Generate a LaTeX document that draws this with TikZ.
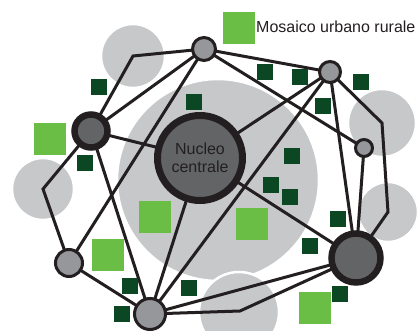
\documentclass[tikz,border=0pt]{standalone}
\usepackage{fontspec}
\setmainfont{Liberation Sans}
\definecolor{zonegray}{HTML}{C7C8CA}
\definecolor{nodegray}{HTML}{96979B}
\definecolor{coregray}{HTML}{636466}
\definecolor{ink}{HTML}{231F20}
\definecolor{dkgreen}{HTML}{0B4722}
\definecolor{ltgreen}{HTML}{6ABD45}
\pgfdeclarelayer{back}
\pgfdeclarelayer{edges}
\pgfsetlayers{back,edges,main}
\begin{document}
\begin{tikzpicture}[x=1pt,y=-1pt,
  zone/.style={fill=zonegray,draw=white,line width=2.5pt},
  smallnode/.style={circle,fill=nodegray,draw=ink,line width=3pt,inner sep=0pt},
  bignode/.style={circle,fill=coregray,draw=ink,line width=6.5pt,inner sep=0pt},
  dsq/.style={fill=dkgreen,minimum size=16pt,inner sep=0pt,outer sep=0pt},
  lsq/.style={fill=ltgreen,minimum size=32pt,inner sep=0pt,outer sep=0pt},
  link/.style={draw=ink,line width=3pt,line join=miter}]
\useasboundingbox (0,0) rectangle (418,331);
% zones
\begin{pgfonlayer}{back}
\draw[zone] (218,180) circle (101);
\draw[zone] (133,56) circle (32);
\draw[zone] (43,189) circle (31);
\draw[zone] (382,123) circle (34);
\draw[zone] (388,212) circle (30);
\draw[zone] (239,312) circle (40);
\end{pgfonlayer}
\coordinate (p1) at (133,56);
\coordinate (p2) at (382,123);
\coordinate (p3) at (388,212);
\coordinate (p4) at (240,311);
\coordinate (p5) at (43,189);
% squares
\node[dsq] (s1) at (99,87) {};
\node[dsq] (s2) at (194,102) {};
\node[dsq] (s3) at (85,163) {};
\node[dsq] (s4) at (265,72) {};
\node[dsq] (s5) at (300,77) {};
\node[dsq] (s6) at (361,82) {};
\node[dsq] (s7) at (323,106) {};
\node[dsq] (s8) at (292,156) {};
\node[dsq] (s9) at (271,185) {};
\node[dsq] (s10) at (290,197) {};
\node[dsq] (s11) at (338,219) {};
\node[dsq] (s12) at (310,246) {};
\node[dsq] (s13) at (340,294) {};
\node[dsq] (s14) at (130,286) {};
\node[dsq] (s15) at (122,314) {};
\node[dsq] (s16) at (189,288) {};
\node[lsq] (l1) at (50,139) {};
\node[lsq] (l2) at (155,217) {};
\node[lsq] (l3) at (252,224) {};
\node[lsq] (l4) at (108,255) {};
\node[lsq] (l5) at (315,308) {};
% legend
\node[lsq] (leg) at (239,28) {};
\node[anchor=base west,inner sep=0pt,text=ink,font=\fontsize{16}{18}\selectfont] (legtext) at (256,33) {Mosaico urbano rurale};
% nodes
\node[smallnode,minimum size=23pt] (A) at (204,49) {};
\node[smallnode,minimum size=21pt] (B) at (330,72) {};
\node[smallnode,minimum size=17pt] (C) at (364,148) {};
\node[smallnode,minimum size=31pt] (E) at (150,314) {};
\node[smallnode,minimum size=27pt] (F) at (69,263) {};
\node[bignode,minimum size=33pt] (G) at (91,131) {};
\node[bignode,minimum size=49pt] (D) at (356,258) {};
\node[bignode,line width=7pt,minimum size=85pt,align=center,text=ink,font=\fontsize{16}{18}\selectfont] (N) at (200,158) {Nucleo\\centrale};
% links
\begin{pgfonlayer}{edges}
\path[link] (A.center) -- (p1) -- (G.center);
\path[link] (A.center) -- (G.center);
\path[link] (A.center) -- (F.center);
\path[link] (A.center) -- (B.center);
\path[link] (A.center) -- (C.center);
\path[link] (G.center) -- (N.center);
\path[link] (G.center) -- (E.center);
\path[link] (G.center) -- (p5) -- (F.center);
\path[link] (F.center) -- (E.center);
\path[link] (N.center) -- (E.center);
\path[link] (N.center) -- (B.center);
\path[link] (N.center) -- (D.center);
\path[link] (B.center) -- (E.center);
\path[link] (B.center) -- (p2) -- (p3) -- (D.center);
\path[link] (B.center) -- (D.center);
\path[link] (C.center) -- (D.center);
\path[link] (E.center) -- (D.center);
\path[link] (E.center) -- (p4) -- (D.center);
\end{pgfonlayer}
\end{tikzpicture}
\end{document}
